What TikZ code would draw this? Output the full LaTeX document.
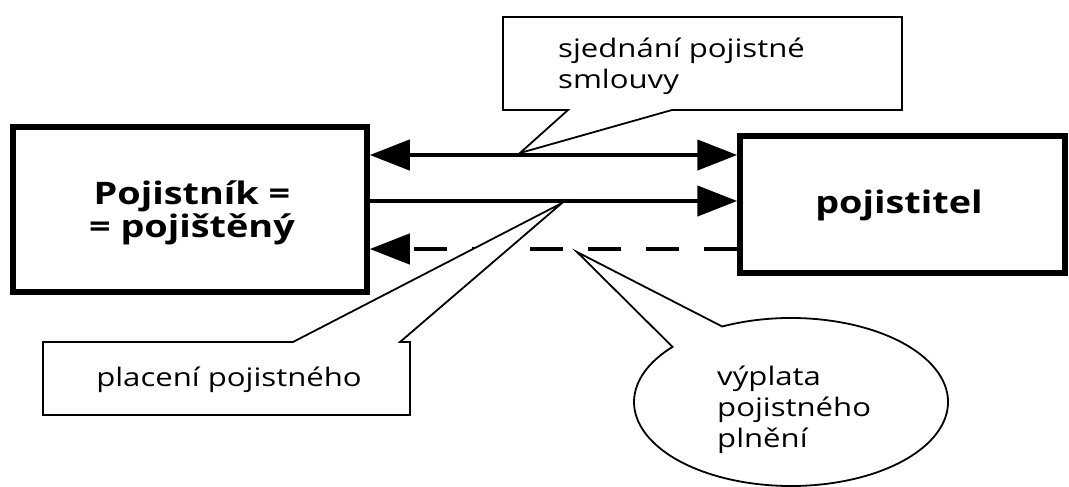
\documentclass[tikz,border=0pt]{standalone}
\usepackage{fontspec}
\setmainfont{Open Sans}[FakeStretch=1.22]
\usetikzlibrary{arrows.meta}
\tikzset{bigtip/.tip={Triangle[length=40pt,width=30pt]}}
\begin{document}
\begin{tikzpicture}[x=1pt,y=-1pt,
  box/.style={draw,line width=5.5pt,inner sep=0pt},
  boxtext/.style={inner sep=0pt,align=center,font=\fontsize{31}{33}\selectfont\bfseries},
  flow/.style={line width=4.5pt},
  callout/.style={draw,line width=1.8pt,fill=white,line join=miter},
  lbl/.style={inner sep=0pt,align=left,font=\fontsize{25.5}{31}\selectfont}
]
\useasboundingbox (0,0) rectangle (1069,487);
\fill[white] (0,0) rectangle (1069,487);

% main boxes
\node[box,minimum width=354pt,minimum height=165pt] (L) at (190,209.5) {};
\node[box,minimum width=325pt,minimum height=137pt] (R) at (902.5,204.5) {};
\node[boxtext] (Lt) at (192,213) {Pojistník =\\= pojištěný};
\node[boxtext] (Rt) at (899,205) {pojistitel};

% levels of the three flows
\coordinate (y1) at (0,155);
\coordinate (y2) at (0,201);
\coordinate (y3) at (0,249);

% flows
\draw[flow,bigtip-bigtip] (L.east |- y1) -- (R.west |- y1);
\draw[flow,-bigtip] (L.east |- y2) -- (R.west |- y2);
\draw[flow,dash pattern=on 33pt off 25pt,-bigtip] (R.west |- y3) -- (L.east |- y3);

% callout tips
\coordinate (t1) at (520,153);
\coordinate (t2) at (562,203);
\coordinate (t3) at (577,252);

% callouts
\draw[callout] (568,110) -- (503,110) -- (503,17) -- (902,17) -- (902,110) -- (672,110) -- (t1) -- cycle;
\draw[callout] (293,342) -- (43,342) -- (43,415) -- (410,415) -- (410,342) -- (400,342) -- (t2) -- cycle;
\draw[callout] (t3) -- (722.2,326.5) arc[start angle=244,end angle=581,x radius=157,y radius=84] -- cycle;

% callout texts
\node[lbl,anchor=west] (T1) at (558,66) {sjednání pojistné\\smlouvy};
\node[lbl] (T2) at (229,380) {placení pojistného};
\node[lbl,anchor=west] (T3) at (717,410) {výplata\\pojistného\\plnění};
\end{tikzpicture}
\end{document}
